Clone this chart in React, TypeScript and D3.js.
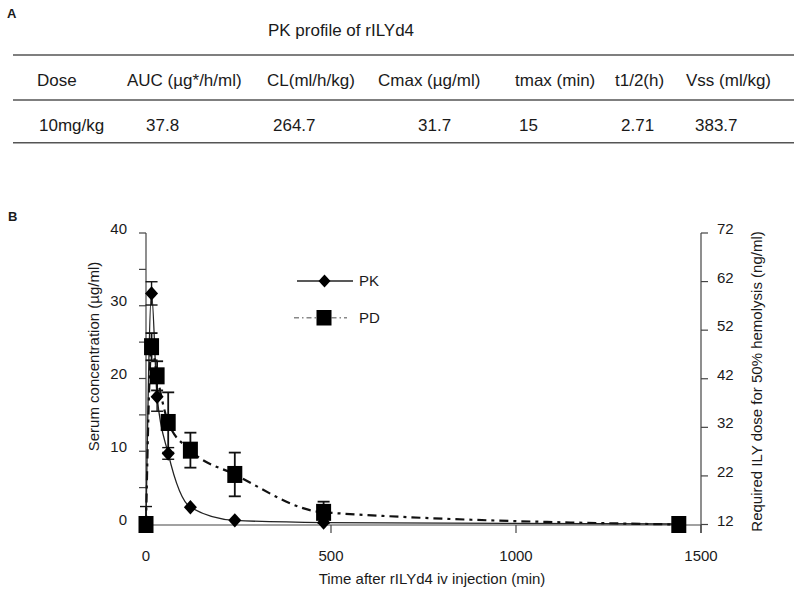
import React from "react";
import * as d3 from "d3";

// ---------- Data ----------
const tableTitle = "PK profile of rILYd4";
const tableHeaders = ["Dose", "AUC (\u00b5g*/h/ml)", "CL(ml/h/kg)", "Cmax (\u00b5g/ml)", "tmax (min)", "t1/2(h)", "Vss (ml/kg)"];
const tableValues = ["10mg/kg", "37.8", "264.7", "31.7", "15", "2.71", "383.7"];

const times = [0, 15, 30, 60, 120, 240, 480, 1440];
const pkValues = [0, 31.7, 17.5, 9.7, 2.3, 0.5, 0.2, 0];
const pkErrors = [2.4, 1.6, 2.0, 0.8, 0.3, 0.2, 0.1, 0];
const pdValues = [12, 48.6, 42.6, 33.0, 27.3, 22.3, 14.5, 12];
const pdErrors = [0, 2.8, 3.0, 6.2, 3.6, 4.5, 2.2, 0];

const xTicks = [0, 500, 1000, 1500];
const leftTicks = [0, 5, 10, 15, 20, 25, 30, 35, 40];
const leftLabels = [0, 10, 20, 30, 40];
const rightTicks = [12, 22, 32, 42, 52, 62, 72];

const seriesNames = ["PK", "PD"];
const xTitle = "Time after rILYd4 iv injection (min)";
const yLeftTitle = "Serum concentration (\u00b5g/ml)";
const yRightTitle = "Required ILY dose for 50% hemolysis (ng/ml)";

// ---------- Layout ----------
const W = 800;
const H = 593;
const headerX = [37, 127, 267, 378, 515, 615, 686];
const valueX = [39, 146, 273, 418, 519, 621, 695];
const FONT = "'Liberation Sans', Arial, Helvetica, sans-serif";
const TXT = "#1a1a1a";
const AX = "#444";

export default function App() {
  const x = d3.scaleLinear().domain([0, 1500]).range([146, 701]);
  const yL = d3.scaleLinear().domain([0, 40]).range([524, 233]);
  const yR = d3.scaleLinear().domain([12, 72]).range([524.5, 233]);
  const axisY = 525;

  const pkData = times.map((t, i) => ({ t, v: pkValues[i], e: pkErrors[i] }));
  const pdData = times.map((t, i) => ({ t, v: pdValues[i], e: pdErrors[i] }));

  const pkLine = d3
    .line<{ t: number; v: number }>()
    .x((d) => x(d.t))
    .y((d) => yL(d.v))
    .curve(d3.curveMonotoneX);
  const pdLine = d3
    .line<{ t: number; v: number }>()
    .x((d) => x(d.t))
    .y((d) => yR(d.v))
    .curve(d3.curveMonotoneX);

  const diamond = (cx: number, cy: number, w = 6.5, h = 7.2) =>
    `M${cx},${cy - h}L${cx + w},${cy}L${cx},${cy + h}L${cx - w},${cy}Z`;

  const errBar = (cx: number, y1: number, y2: number, key: string, sw = 1.8) => (
    <g key={key} stroke="#111" strokeWidth={sw}>
      <line x1={cx} x2={cx} y1={y1} y2={y2} />
      <line x1={cx - 6} x2={cx + 6} y1={y1} y2={y1} />
      <line x1={cx - 6} x2={cx + 6} y1={y2} y2={y2} />
    </g>
  );

  return (
    <svg width={W} height={H} style={{ display: "block", position: "absolute", left: 0, top: 0 }} fontFamily={FONT}>
      <rect width={W} height={H} fill="#fff" />

      {/* ---------- Panel A ---------- */}
      <text x={7} y={17.5} fontSize={13} fontWeight="bold" fill={TXT}>A</text>
      <text x={341} y={36} fontSize={17} textAnchor="middle" fill={TXT}>{tableTitle}</text>
      {[55, 100, 142.7].map((yy) => (
        <line key={yy} x1={13} x2={794} y1={yy} y2={yy} stroke="#555" strokeWidth={1.6} />
      ))}
      {tableHeaders.map((h, i) => (
        <text key={h} x={headerX[i]} y={86} fontSize={17} fill={TXT}>{h}</text>
      ))}
      {tableValues.map((v, i) => (
        <text key={i} x={valueX[i]} y={130.5} fontSize={17} fill={TXT}>{v}</text>
      ))}

      {/* ---------- Panel B ---------- */}
      <text x={8} y={220.7} fontSize={13} fontWeight="bold" fill={TXT}>B</text>

      {/* Left axis */}
      <line x1={146} x2={146} y1={233} y2={axisY + 8} stroke={AX} strokeWidth={1.2} />
      {leftTicks.map((t) => (
        <line key={t} x1={139} x2={146} y1={yL(t)} y2={yL(t)} stroke={AX} strokeWidth={1.2} />
      ))}
      {leftLabels.map((t) => (
        <text key={t} x={127} y={yL(t) + 0.5} fontSize={15} textAnchor="end" fill={TXT}>{t}</text>
      ))}
      <text transform="translate(98.5,356.5) rotate(-90)" fontSize={15} textAnchor="middle" fill={TXT}>
        {yLeftTitle}
      </text>

      {/* Right axis */}
      <line x1={701} x2={701} y1={233} y2={axisY + 8} stroke={AX} strokeWidth={1.2} />
      {rightTicks.map((t) => (
        <line key={t} x1={701} x2={708} y1={yR(t)} y2={yR(t)} stroke={AX} strokeWidth={1.2} />
      ))}
      {rightTicks.map((t) => (
        <text key={t} x={717} y={yR(t) + 1} fontSize={15} fill={TXT}>{t}</text>
      ))}
      <text transform="translate(762,381.5) rotate(-90)" fontSize={15} textAnchor="middle" fill={TXT}>
        {yRightTitle}
      </text>

      {/* Bottom axis */}
      <line x1={146} x2={701} y1={axisY} y2={axisY} stroke={AX} strokeWidth={1.2} />
      {xTicks.map((t) => (
        <line key={t} x1={x(t)} x2={x(t)} y1={axisY} y2={axisY + 8} stroke={AX} strokeWidth={1.2} />
      ))}
      {xTicks.map((t) => (
        <text key={t} x={x(t)} y={560.5} fontSize={15} textAnchor="middle" fill={TXT}>{t}</text>
      ))}
      <text x={432} y={584} fontSize={15} textAnchor="middle" fill={TXT}>
        {xTitle}
      </text>

      {/* Lines */}
      <path d={pkLine(pkData) || ""} fill="none" stroke="#222" strokeWidth={1.3} />
      <path d={pdLine(pdData) || ""} fill="none" stroke="#111" strokeWidth={2.2} strokeDasharray="9,5,3,5" />

      {/* Error bars */}
      {pkData.map((d, i) =>
        d.e > 0.5
          ? errBar(x(d.t), yL(d.v + d.e), yL(Math.max(0, d.v - d.e)), `pke${i}`, 1.4)
          : null
      )}
      {pdData.map((d, i) =>
        d.e > 0
          ? errBar(x(d.t), yR(d.v + d.e), yR(Math.max(12, d.v - d.e)), `pde${i}`, 1.8)
          : null
      )}

      {/* Markers */}
      {pdData.map((d, i) => (
        <rect key={`pd${i}`} x={x(d.t) - 7.5} y={yR(d.v) - 8.5} width={15} height={17} fill="#000" />
      ))}
      {pkData.map((d, i) => (
        <path key={`pk${i}`} d={diamond(x(d.t), yL(d.v))} fill="#000" />
      ))}

      {/* Legend */}
      <line x1={297} x2={353} y1={281} y2={281} stroke="#222" strokeWidth={1.3} />
      <path d={diamond(324.5, 281, 6, 6.5)} fill="#000" />
      <text x={359} y={286.4} fontSize={15} fill={TXT}>{seriesNames[0]}</text>
      <line x1={294} x2={347} y1={317.7} y2={317.7} stroke="#888" strokeWidth={1.5} strokeDasharray="5,3,1.5,3" />
      <rect x={316.5} y={310} width={15} height={15.5} fill="#000" />
      <text x={359} y={323} fontSize={15} fill={TXT}>{seriesNames[1]}</text>
    </svg>
  );
}
